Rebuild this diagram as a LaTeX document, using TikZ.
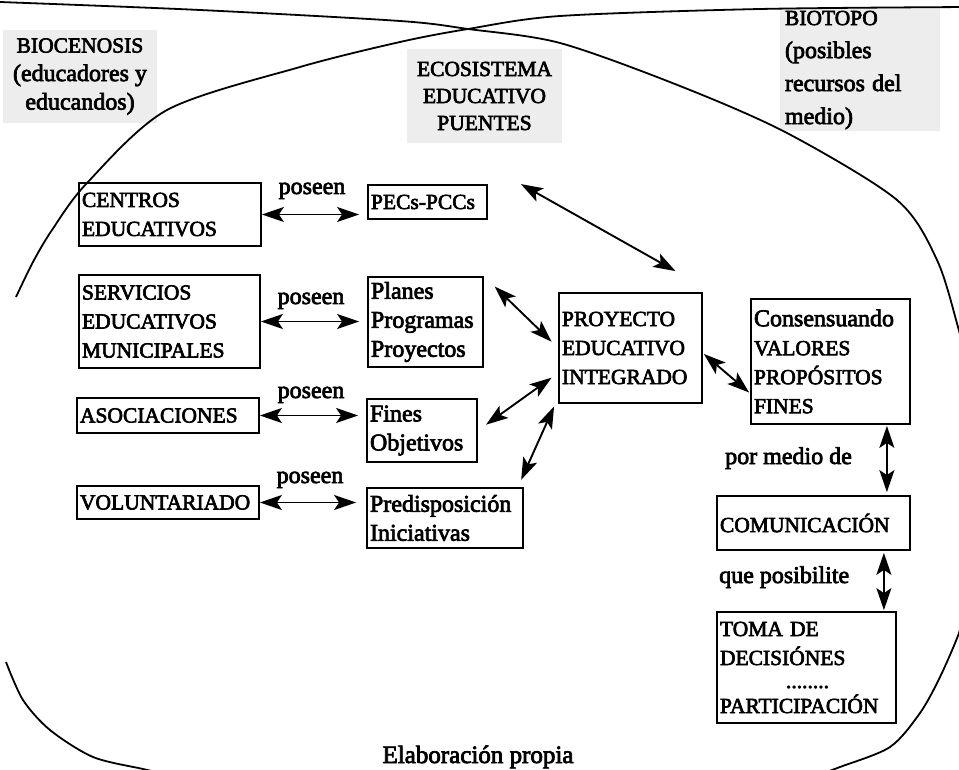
\documentclass[tikz,border=0pt]{standalone}
\usepackage{fontspec}
\setmainfont{Liberation Serif}[FakeBold=3]
\usetikzlibrary{arrows.meta,calc}
\newcommand\CPs{\fontsize{21.5}{29}\selectfont}
\newcommand\LCs{\fontsize{24}{29}\selectfont}
\begin{document}
\begin{tikzpicture}[x=1pt,y=-1pt,
  curve/.style={line width=1.8pt},
  bx/.style={draw, line width=1.8pt, rectangle, inner xsep=3pt, inner ysep=0pt, align=left, font=\CPs},
  lbl/.style={font=\LCs, inner sep=0pt},
  bg/.style={fill=black!7, inner xsep=4pt, inner ysep=0pt, draw=none},
  arr/.style={line width=1.9pt, {Stealth[length=22pt,width=15pt,inset=5pt]}-{Stealth[length=22pt,width=15pt,inset=5pt]}}
]
\useasboundingbox (0,0) rectangle (959,770);

% shaded labels
\node[bg, minimum width=154pt, minimum height=93pt, align=center, font=\fontsize{21.5}{28.5}\selectfont] (bio) at (80,76.5)
  {BIOCENOSIS\\{\LCs (educadores y}\\{\LCs educandos)}};
\node[bg, minimum width=155pt, minimum height=94pt, align=center, font=\fontsize{21.5}{27}\selectfont] (eco) at (484.5,96)
  {ECOSISTEMA\\EDUCATIVO\\PUENTES};
\node[bg, minimum width=160pt, minimum height=123pt, text width=150pt, align=left, font=\fontsize{21.5}{33}\selectfont] (bioto) at (860,70)
  {BIOTOPO\\{\fontsize{24}{33}\selectfont (posibles}\\{\fontsize{24}{33}\selectfont recursos del}\\{\fontsize{24}{33}\selectfont medio)}};

% the two large curves
\draw[curve] plot[smooth, tension=0.5] coordinates {(-10,2) (0,2) (200,10) (400,21) (468,29) (560,43) (680,86) (787,133) (897,200) (937,260) (958,327) (966,360)};
\draw[curve] plot[smooth, tension=0.5] coordinates {(968,600) (959,633) (940,677) (920,713) (890,747) (840,767) (815,776)};
\draw[curve] plot[smooth, tension=0.5] coordinates {(16,297) (33,262) (52,230) (87,183) (167,110) (300,67) (400,42) (468,29) (560,16) (760,9) (970,7)};
\draw[curve] plot[smooth, tension=0.5] coordinates {(6,662) (23,700) (50,730) (93,757) (143,769) (165,774)};

% boxes
\node[bx, minimum width=182pt, minimum height=63pt, text width=176pt] (centros) at (170,214.5) {CENTROS\\EDUCATIVOS};
\node[bx, minimum width=119pt, minimum height=34pt, text width=113pt] (pecs) at (427.5,202) {PECs-PCCs};
\node[bx, minimum width=181pt, minimum height=93pt, text width=175pt] (serv) at (169.5,321.5) {SERVICIOS\\EDUCATIVOS\\MUNICIPALES};
\node[bx, minimum width=115pt, minimum height=90pt, text width=109pt, font=\LCs] (planes) at (425.5,322) {Planes\\Programas\\Proyectos};
\node[bx, minimum width=182pt, minimum height=35pt, text width=176pt] (asoc) at (168,415.5) {ASOCIACIONES};
\node[bx, minimum width=110pt, minimum height=63pt, text width=104pt, font=\LCs] (fines) at (422,430.5) {Fines\\Objetivos};
\node[bx, minimum width=182pt, minimum height=33pt, text width=176pt] (vol) at (168,502.5) {VOLUNTARIADO};
\node[bx, minimum width=156pt, minimum height=60pt, text width=150pt, font=\LCs] (pred) at (445,518) {Predisposición\\Iniciativas};
\node[bx, minimum width=143pt, minimum height=110pt, text width=137pt] (proy) at (630.5,348) {PROYECTO\\EDUCATIVO\\INTEGRADO};
\node[bx, minimum width=159pt, minimum height=125pt, text width=153pt] (cons) at (830.5,361.5) {{\LCs Consensuando}\\VALORES\\PROPÓSITOS\\FINES};
\node[bx, minimum width=193pt, minimum height=54pt, text width=187pt] (com) at (813.5,523) {COMUNICACIÓN};
\node[bx, minimum width=179pt, minimum height=111pt, text width=173pt] (toma) at (806.5,667.5) {TOMA DE\\DECISIÓNES\\[-6pt]\hspace*{66pt}........\\[-4pt]PARTICIPACIÓN};

% labels
\node[lbl, anchor=base] (pos1) at (312,194) {poseen};
\node[lbl, anchor=base] (pos2) at (311,304) {poseen};
\node[lbl, anchor=base] (pos3) at (311,398) {poseen};
\node[lbl, anchor=base] (pos4) at (310,483) {poseen};
\node[lbl, anchor=base west] (pmd) at (725,464) {por medio de};
\node[lbl, anchor=base west] (qp) at (719,583) {que posibilite};
\node[lbl, anchor=base, font=\fontsize{25}{29}\selectfont] (elab) at (478,763) {Elaboración propia};

% connectors
\draw[arr, shorten >=8pt] (centros.east) -- (pecs.west |- centros.east);
\draw[arr, shorten >=8pt] (serv.east) -- (planes.west |- serv.east);
\draw[arr, shorten >=8pt] (asoc.east) -- (fines.west |- asoc.east);
\draw[arr, shorten >=10pt] (vol.east) -- (pred.west |- vol.east);
\draw[arr] ($(pecs.north east)+(33,0)$) -- ($(proy.north)+(45,-21)$);
\draw[arr, shorten <=15pt, shorten >=9pt] (planes.north east) -- (proy.west);
\draw[arr, shorten <=10pt, shorten >=8pt] (fines.east) -- ($(proy.west)+(0,25)$);
\draw[arr, shorten <=8pt, shorten >=5pt] ($(pred.north east)+(-6,0)$) -- ($(proy.south west)+(-2,-2)$);
\draw[arr] ($(proy.east)+(1,6)$) -- ($(cons.west)+(-1,31)$);
\draw[arr] ($(cons.south east)+(-24,1)$) -- ($(com.north east)+(-24,-3)$);
\draw[arr] ($(com.south east)+(-27,2)$) -- ($(toma.north east)+(-13,-1)$);
\end{tikzpicture}
\end{document}
